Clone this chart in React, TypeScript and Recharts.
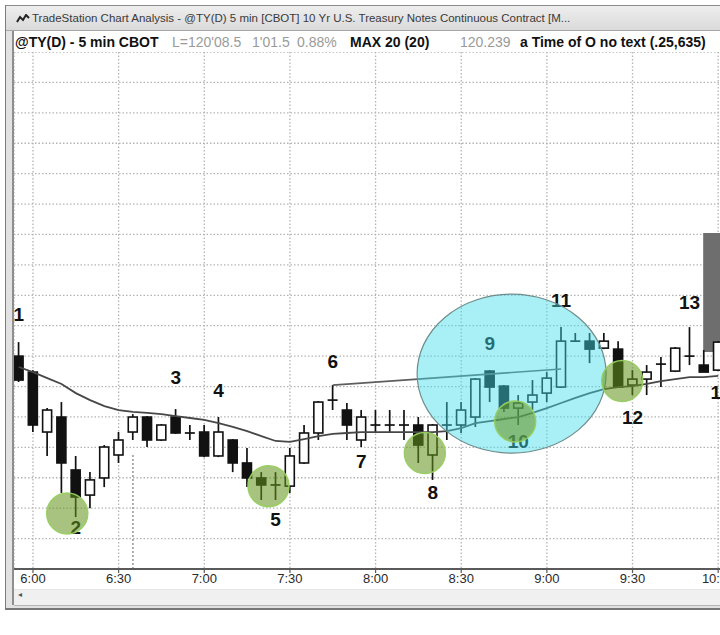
import React from 'react';
import {
  ComposedChart,
  Bar,
  Line,
  Scatter,
  XAxis,
  YAxis,
  CartesianGrid,
  ReferenceArea,
  ReferenceLine,
} from 'recharts';

// ---- DATA -------------------------------------------------------------
// 5-minute bars from 5:55 (index 0) to 10:00 (index 49)
const tickIndex = [1, 7, 13, 19, 25, 31, 37, 43, 49];
const tickLabels = ['6:00', '6:30', '7:00', '7:30', '8:00', '8:30', '9:00', '9:30', '10:00'];

const opens = [
  120.25, 120.2418, 120.211, 120.2187, 120.1915, 120.1786, 120.1874, 120.1992, 120.211, 120.2187,
  120.2069, 120.2187, 120.2105, 120.211, 120.1987, 120.2069, 120.1951, 120.1874, 120.1838, 120.1832,
  120.1951, 120.2105, 120.2274, 120.2223, 120.2069, 120.2146, 120.2146, 120.2146, 120.2146, 120.1992,
  120.2146, 120.2146, 120.2187, 120.2423, 120.2346, 120.2233, 120.2264, 120.231, 120.2341, 120.2577,
  120.2577, 120.2541, 120.2536, 120.2351, 120.2382, 120.2459, 120.2423, 120.25, 120.2454, 120.2428,
];
const highs = [
  120.2572, 120.2428, 120.2233, 120.2264, 120.1987, 120.1904, 120.2043, 120.211, 120.2202, 120.2192,
  120.2151, 120.2228, 120.2146, 120.2146, 120.2187, 120.2074, 120.2028, 120.1904, 120.1904, 120.2028,
  120.2146, 120.2269, 120.2351, 120.2259, 120.2223, 120.2223, 120.2223, 120.2223, 120.2187, 120.2151,
  120.2264, 120.2264, 120.2387, 120.2428, 120.2351, 120.23, 120.2377, 120.2418, 120.2649, 120.2619,
  120.2619, 120.2619, 120.2577, 120.2428, 120.2454, 120.2495, 120.2547, 120.2649, 120.2531, 120.2577,
];
const lows = [
  120.2367, 120.211, 120.1987, 120.1797, 120.1673, 120.1719, 120.1827, 120.1951, 120.2069, 120.2033,
  120.2064, 120.21, 120.2069, 120.1981, 120.1981, 120.1904, 120.1827, 120.1761, 120.1761, 120.1797,
  120.1946, 120.2069, 120.2223, 120.2069, 120.2033, 120.211, 120.211, 120.2069, 120.1951, 120.1864,
  120.2069, 120.2105, 120.2136, 120.2264, 120.2213, 120.2146, 120.2223, 120.2264, 120.2336, 120.2577,
  120.2464, 120.2536, 120.2336, 120.23, 120.23, 120.2341, 120.2418, 120.2454, 120.2418, 120.2423,
];
const closes = [
  120.2377, 120.2146, 120.2223, 120.1951, 120.1776, 120.1864, 120.2033, 120.2069, 120.2187, 120.2069,
  120.2146, 120.2105, 120.2105, 120.1987, 120.211, 120.1951, 120.1874, 120.1838, 120.1838, 120.1987,
  120.2105, 120.2264, 120.2274, 120.2146, 120.2187, 120.2146, 120.2146, 120.2146, 120.2043, 120.2146,
  120.2146, 120.2223, 120.2382, 120.2341, 120.2233, 120.2259, 120.23, 120.2387, 120.2577, 120.2577,
  120.2536, 120.2577, 120.2341, 120.2382, 120.2418, 120.2459, 120.2541, 120.25, 120.2418, 120.2572,
];
const ma20 = [
  120.2444, 120.2418, 120.2387, 120.2357, 120.231, 120.2274, 120.2243, 120.2223, 120.2213, 120.2208,
  120.2202, 120.2192, 120.2182, 120.2172, 120.2156, 120.2136, 120.2115, 120.2089, 120.2064, 120.2059,
  120.2074, 120.2089, 120.21, 120.2105, 120.211, 120.211, 120.211, 120.211, 120.211, 120.211,
  120.2115, 120.213, 120.2156, 120.2166, 120.2177, 120.2187, 120.2208, 120.2233, 120.2259, 120.2285,
  120.231, 120.2331, 120.2341, 120.2346, 120.2357, 120.2372, 120.2382, 120.2392, 120.2392, 120.2398,
];

const gridPrices = [
  120.15625, 120.171875, 120.1875, 120.203125, 120.21875, 120.234375, 120.25, 120.265625,
  120.28125, 120.296875, 120.3125, 120.328125, 120.34375, 120.359375, 120.375, 120.390625,
];
const priceDomain = [120.140625, 120.40625];

const trendLine = [
  { i: 22, p: 120.2351 },
  { i: 38, p: 120.2434 },
];

const notes = [
  { i: 0, p: 120.2716, t: '1' },
  { i: 4, p: 120.1617, t: '2' },
  { i: 11, p: 120.2392, t: '3' },
  { i: 14, p: 120.2321, t: '4' },
  { i: 18, p: 120.1663, t: '5' },
  { i: 22, p: 120.247, t: '6' },
  { i: 24, p: 120.1961, t: '7' },
  { i: 29, p: 120.1797, t: '8' },
  { i: 33, p: 120.2567, t: '9' },
  { i: 35, p: 120.2059, t: '10' },
  { i: 38, p: 120.2788, t: '11' },
  { i: 43, p: 120.2187, t: '12' },
  { i: 47, p: 120.2773, t: '13' },
  { i: 49.2, p: 120.2315, t: '14' },
];

const greenSpots = [
  { i: 3.4, p: 120.1691 },
  { i: 17.5, p: 120.1832 },
  { i: 28.45, p: 120.2002 },
  { i: 34.78, p: 120.2164 },
  { i: 42.28, p: 120.2372 },
];
const cyanZone = [{ i: 34.53, p: 120.241 }];

const openMarkerIndex = 8;
const openMarkerTop = 120.2002;
const shadeBox = { i1: 47.95, i2: 52, p1: 120.2521, p2: 120.3132 };

const rows = opens.map((o, i) => ({
  i,
  o,
  h: highs[i],
  l: lows[i],
  c: closes[i],
  range: [lows[i], highs[i]],
  ma: ma20[i],
}));

// ---- SHAPES -----------------------------------------------------------
const Candle = (props: any) => {
  const { x, y, width, height, payload } = props;
  if (x == null || y == null || !payload) return null;
  const cx = x + width / 2;
  const top = Math.min(y, y + height);
  const bot = Math.max(y, y + height);
  const { o, h, l, c } = payload;
  const span = h - l || 1e-9;
  const py = (v: number) => top + ((h - v) / span) * (bot - top);
  const yo = py(o);
  const yc = py(c);
  const bw = 9;
  const col = '#111';
  if (Math.abs(o - c) < 1e-7) {
    return (
      <g>
        <line x1={cx} x2={cx} y1={top} y2={bot} stroke={col} strokeWidth={1.7} />
        <line x1={cx - bw / 2 - 0.5} x2={cx + bw / 2 + 0.5} y1={yo} y2={yo} stroke={col} strokeWidth={1.7} />
      </g>
    );
  }
  const bt = Math.min(yo, yc);
  const bb = Math.max(yo, yc);
  const up = c > o;
  return (
    <g>
      <line x1={cx} x2={cx} y1={top} y2={bot} stroke={col} strokeWidth={1.7} />
      <rect
        x={cx - bw / 2}
        y={bt}
        width={bw}
        height={Math.max(bb - bt, 1)}
        fill={up ? '#fff' : col}
        stroke={col}
        strokeWidth={1.6}
      />
    </g>
  );
};

const NoteText = (props: any) => {
  const { cx, cy, payload } = props;
  if (cx == null) return null;
  return (
    <text
      x={cx}
      y={cy}
      textAnchor="middle"
      dominantBaseline="central"
      fontFamily='"Liberation Sans", Arial, sans-serif'
      fontWeight="bold"
      fontSize={19}
      fill="#111"
    >
      {payload.t}
    </text>
  );
};

const GreenSpot = (props: any) => {
  const { cx, cy } = props;
  if (cx == null) return null;
  return (
    <circle cx={cx} cy={cy} r={20.5} fill="rgba(100,148,28,0.56)" stroke="rgba(150,205,95,0.95)" strokeWidth={1.5} />
  );
};

const CyanZone = (props: any) => {
  const { cx, cy } = props;
  if (cx == null) return null;
  return (
    <ellipse cx={cx} cy={cy} rx={94.5} ry={79.5} fill="rgba(62,222,232,0.45)" stroke="#6f8c8c" strokeWidth={1.2} />
  );
};

const sans = '"Liberation Sans", Arial, Helvetica, sans-serif';

export default function App() {
  return (
    <div
      style={{
        position: 'absolute',
        left: 0,
        top: 0,
        width: 720,
        height: 635,
        overflow: 'hidden',
        background: '#fff',
        fontFamily: sans,
      }}
    >
      {/* window frame */}
      <div
        style={{
          position: 'absolute',
          left: 5,
          top: 5,
          width: 780,
          height: 602,
          background: '#e2e2e2',
          borderTop: '1px solid #8c8c8c',
          borderLeft: '1px solid #7c7c7c',
          borderBottom: '2px solid #777',
        }}
      />
      {/* title bar */}
      <div
        style={{
          position: 'absolute',
          left: 6,
          top: 6,
          width: 780,
          height: 24,
          background: 'linear-gradient(#eeeeee, #dadada)',
          borderBottom: '1px solid #a6a6a6',
        }}
      />
      <svg style={{ position: 'absolute', left: 16, top: 14 }} width={14} height={10}>
        <polyline points="1,8 4,3 7,6 10,1 13,4" fill="none" stroke="#222" strokeWidth={2} />
      </svg>
      <div
        style={{
          position: 'absolute',
          left: 32,
          top: 12,
          fontSize: 11.5,
          color: '#3a3a3a',
          whiteSpace: 'nowrap',
        }}
      >
        TradeStation Chart Analysis - @TY(D) 5 min [CBOT] 10 Yr U.S. Treasury Notes Continuous Contract [M...
      </div>
      {/* content area */}
      <div
        style={{
          position: 'absolute',
          left: 12,
          top: 31,
          width: 780,
          height: 574,
          background: '#fff',
          borderLeft: '2px solid #8e8e8e',
        }}
      />
      {/* scroll bar strip */}
      <div
        style={{
          position: 'absolute',
          left: 14,
          top: 589,
          width: 780,
          height: 15,
          background: '#f0f0f0',
          borderTop: '1px solid #e4e4e4',
          borderBottom: '1px solid #b5b5b5',
        }}
      />
      <div style={{ position: 'absolute', left: 18, top: 590, fontSize: 8, color: '#555' }}>◂</div>

      {/* header */}
      <div style={{ position: 'absolute', left: 15, top: 34, fontSize: 14, whiteSpace: 'nowrap', lineHeight: '16px' }}>
        <span style={{ position: 'absolute', left: 0, fontWeight: 'bold', color: '#111' }}>@TY(D) - 5 min CBOT</span>
        <span style={{ position: 'absolute', left: 157, color: '#9a9a9a' }}>L=120'08.5</span>
        <span style={{ position: 'absolute', left: 237, color: '#9a9a9a' }}>1'01.5</span>
        <span style={{ position: 'absolute', left: 282, color: '#9a9a9a' }}>0.88%</span>
        <span style={{ position: 'absolute', left: 335, fontWeight: 'bold', color: '#111' }}>MAX 20 (20)</span>
        <span style={{ position: 'absolute', left: 445, color: '#9a9a9a' }}>120.239</span>
        <span style={{ position: 'absolute', left: 505, fontWeight: 'bold', color: '#111' }}>a Time of O no text (.25,635)</span>
      </div>

      {/* chart */}
      <div style={{ position: 'absolute', left: 14, top: 52 }}>
        <ComposedChart width={747} height={547} data={rows} margin={{ top: 0, right: 0, bottom: 0, left: 0 }}>
          <CartesianGrid stroke="#b4b4b4" strokeDasharray="1.5 2" strokeWidth={1.3} />
          <XAxis
            dataKey="i"
            type="number"
            domain={[-0.33, 52]}
            allowDataOverflow
            ticks={tickIndex}
            interval={0}
            tickFormatter={(v: number) => tickLabels[tickIndex.indexOf(v)] ?? ''}
            height={30}
            tickSize={4}
            tickMargin={1}
            axisLine={{ stroke: '#5a5a5a', strokeWidth: 1.8 }}
            tickLine={{ stroke: '#5a5a5a', strokeWidth: 1.2 }}
            tick={{ fontSize: 13, fill: '#2a2a2a', fontFamily: sans }}
          />
          <YAxis type="number" domain={priceDomain} ticks={gridPrices} allowDataOverflow hide />
          <ReferenceArea
            x1={shadeBox.i1}
            x2={shadeBox.i2}
            y1={shadeBox.p1}
            y2={shadeBox.p2}
            fill="#6e6e6e"
            fillOpacity={1}
            stroke="none"
            ifOverflow="hidden"
          />
          <ReferenceLine
            segment={[
              { x: openMarkerIndex, y: priceDomain[0] },
              { x: openMarkerIndex, y: openMarkerTop },
            ]}
            stroke="#9c9c9c"
            strokeWidth={1.6}
            strokeDasharray="2 2"
          />
          <Line dataKey="ma" type="linear" stroke="#474747" strokeWidth={1.8} dot={false} isAnimationActive={false} />
          <Line
            data={trendLine}
            dataKey="p"
            type="linear"
            stroke="#5e5e5e"
            strokeWidth={1.6}
            dot={false}
            isAnimationActive={false}
          />
          <Bar dataKey="range" barSize={10} shape={<Candle />} isAnimationActive={false} />
          <Scatter data={notes} dataKey="p" shape={<NoteText />} isAnimationActive={false} />
          <Scatter data={cyanZone} dataKey="p" shape={<CyanZone />} isAnimationActive={false} />
          <Scatter data={greenSpots} dataKey="p" shape={<GreenSpot />} isAnimationActive={false} />
        </ComposedChart>
      </div>
    </div>
  );
}
